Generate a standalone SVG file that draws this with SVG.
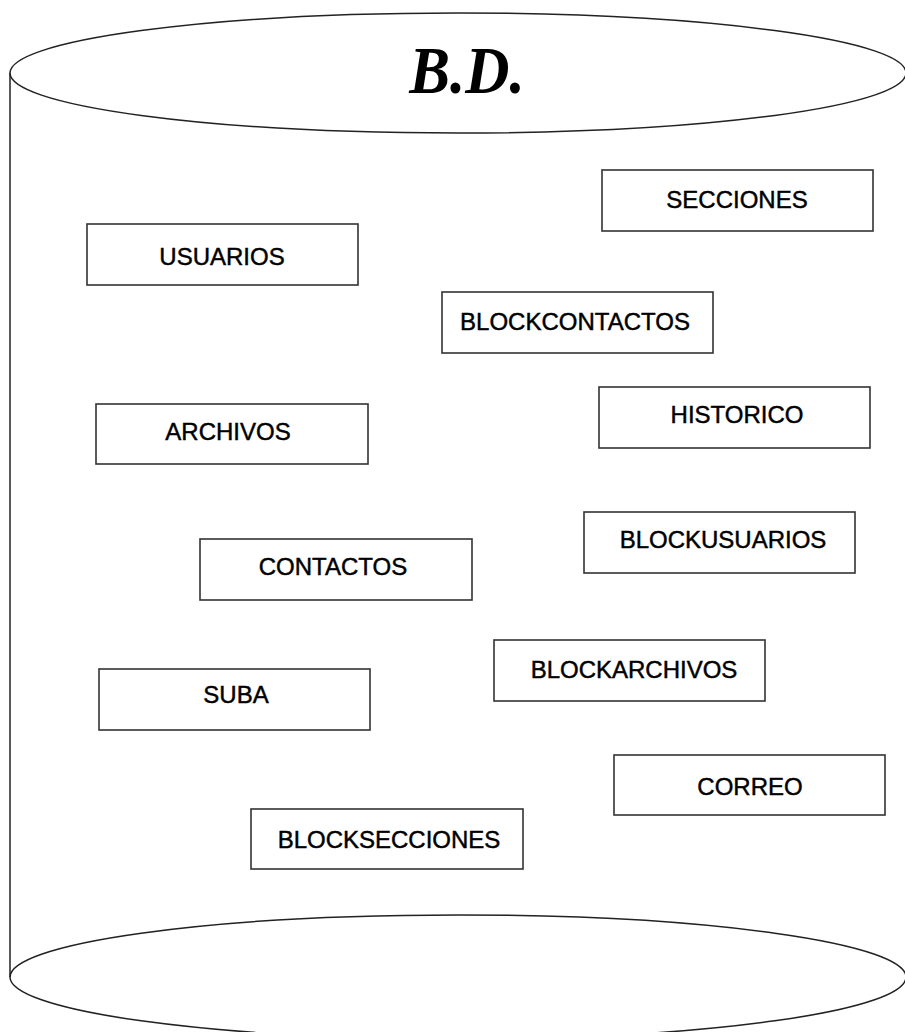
<svg xmlns="http://www.w3.org/2000/svg" width="905" height="1032" viewBox="0 0 905 1032">
<style>
.cyl{fill:none;stroke:#222;stroke-width:1.5}
.box rect{fill:#fff;stroke:#333;stroke-width:1.6}
.box text{font-family:"Liberation Sans",Arial,sans-serif;font-size:24px;fill:#000;stroke:#000;stroke-width:0.45;text-anchor:middle}
.title{font-family:"Liberation Serif","Times New Roman",serif;font-weight:bold;font-style:italic;font-size:68px;fill:#000;text-anchor:middle}
</style>
<rect width="905" height="1032" fill="#fff"/>
<g id="cylinder">
<ellipse class="cyl" cx="458" cy="73" rx="448" ry="60"/>
<line class="cyl" x1="10" y1="73" x2="10" y2="977"/>
<ellipse class="cyl" cx="458" cy="977" rx="448" ry="62"/>
<text class="title" transform="translate(467 93) scale(0.9 1)" x="0" y="0">B.D.</text>
</g>
<g id="connectors"></g>
<g id="secciones" class="box"><rect x="602" y="170" width="271" height="61"/><text x="737" y="208">SECCIONES</text></g>
<g id="usuarios" class="box"><rect x="87" y="224" width="271" height="61"/><text x="222" y="265">USUARIOS</text></g>
<g id="blockcontactos" class="box"><rect x="442" y="292" width="271" height="61"/><text x="575" y="330">BLOCKCONTACTOS</text></g>
<g id="archivos" class="box"><rect x="96" y="404" width="272" height="60"/><text x="228" y="440">ARCHIVOS</text></g>
<g id="historico" class="box"><rect x="599" y="387" width="271" height="61"/><text x="737" y="423">HISTORICO</text></g>
<g id="contactos" class="box"><rect x="200" y="539" width="272" height="61"/><text x="333" y="575">CONTACTOS</text></g>
<g id="blockusuarios" class="box"><rect x="584" y="512" width="271" height="61"/><text x="723" y="548">BLOCKUSUARIOS</text></g>
<g id="suba" class="box"><rect x="99" y="669" width="271" height="61"/><text x="236" y="703">SUBA</text></g>
<g id="blockarchivos" class="box"><rect x="494" y="640" width="271" height="61"/><text x="634" y="678">BLOCKARCHIVOS</text></g>
<g id="correo" class="box"><rect x="614" y="755" width="271" height="60"/><text x="750" y="795">CORREO</text></g>
<g id="blocksecciones" class="box"><rect x="251" y="809" width="272" height="60"/><text x="389" y="848">BLOCKSECCIONES</text></g>
</svg>
